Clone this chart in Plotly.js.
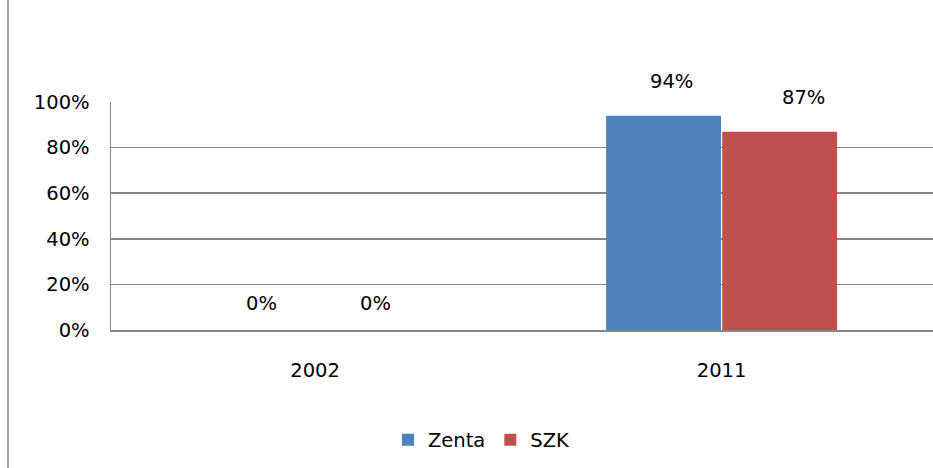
<!DOCTYPE html>
<html>
<head>
<meta charset="utf-8">
<script src="https://cdn.plot.ly/plotly-3.0.1.min.js"></script>
<style>
  html, body { margin: 0; padding: 0; background: #fff; }
  #chart { width: 933px; height: 468px; }
</style>
</head>
<body>
<div id="chart"></div>
<script>
// Data
const categories = ['2002', '2011'];
const zentaValues = [0, 0.94];
const szkValues = [0, 0.87];
const seriesNames = ['Zenta', 'SZK'];
const yTickValues = [0, 0.2, 0.4, 0.6, 0.8, 1.0];

const FONT = 'DejaVu Sans, Verdana, sans-serif';
const GRID = '#868686';

const W = 933, H = 468;
const M = { l: 111, r: 0, t: 102, b: 138 };
const plotW = W - M.l - M.r;
const plotH = H - M.t - M.b;

const traces = [
  { type: 'bar', name: seriesNames[0], x: categories, y: zentaValues,
    marker: { color: '#4F81BD' }, hoverinfo: 'none' },
  { type: 'bar', name: seriesNames[1], x: categories, y: szkValues,
    marker: { color: '#C0504D' }, hoverinfo: 'none' }
];

// Data labels (x given as category index on the category axis)
const annotations = [];
const series = [zentaValues, szkValues];
const barOffsets = [-58, 58];
// small label nudges as in the source chart: [series][category]
const labelNudge = [[4, 8], [2, 24]];
series.forEach((vals, si) => {
  vals.forEach((v, i) => {
    annotations.push({
      xref: 'x', yref: 'y', x: i, y: v,
      text: Math.round(v * 100) + '%',
      showarrow: false, xanchor: 'center', yanchor: 'middle',
      xshift: barOffsets[si] + labelNudge[si][i],
      yshift: v > 0 ? 34 : 27,
      font: { family: FONT, size: 19.5, color: '#000' }
    });
  });
});

const layout = {
  width: W, height: H,
  margin: M,
  paper_bgcolor: '#fff', plot_bgcolor: '#fff',
  showlegend: true,
  barmode: 'group',
  bargap: 0.429,
  bargroupgap: 0.01,
  font: { family: FONT, size: 19.5, color: '#000' },
  xaxis: {
    type: 'category',
    categoryorder: 'array', categoryarray: categories,
    range: [-0.502, 1.52],
    autorange: false,
    showline: true, linecolor: GRID, linewidth: 1.5,
    showgrid: false, zeroline: false,
    ticks: '', ticklabelstandoff: 22,
    tickfont: { family: FONT, size: 19.5, color: '#000' },
    fixedrange: true
  },
  yaxis: {
    range: [0, 1],
    autorange: false,
    tickvals: yTickValues,
    tickformat: '.0%',
    showline: true, linecolor: GRID, linewidth: 1.5,
    showgrid: true, gridcolor: GRID, gridwidth: 1.5,
    zeroline: false,
    ticks: '', ticklabelstandoff: 16,
    tickfont: { family: FONT, size: 19.5, color: '#000' },
    fixedrange: true
  },
  legend: {
    orientation: 'h',
    xref: 'container', yref: 'container',
    x: 482 / W, xanchor: 'center',
    y: 1 - 440 / H, yanchor: 'middle',
    font: { family: FONT, size: 19.5, color: '#000' },
    itemwidth: 30,
    bgcolor: 'rgba(0,0,0,0)'
  },
  annotations: annotations,
  shapes: [{
    type: 'line', xref: 'paper', yref: 'paper',
    x0: (8 - M.l) / plotW, x1: (8 - M.l) / plotW,
    y0: -M.b / plotH, y1: 1 + M.t / plotH,
    line: { color: GRID, width: 1.5 }
  }]
};

Plotly.newPlot('chart', traces, layout, { displayModeBar: false, staticPlot: true });
</script>
</body>
</html>
